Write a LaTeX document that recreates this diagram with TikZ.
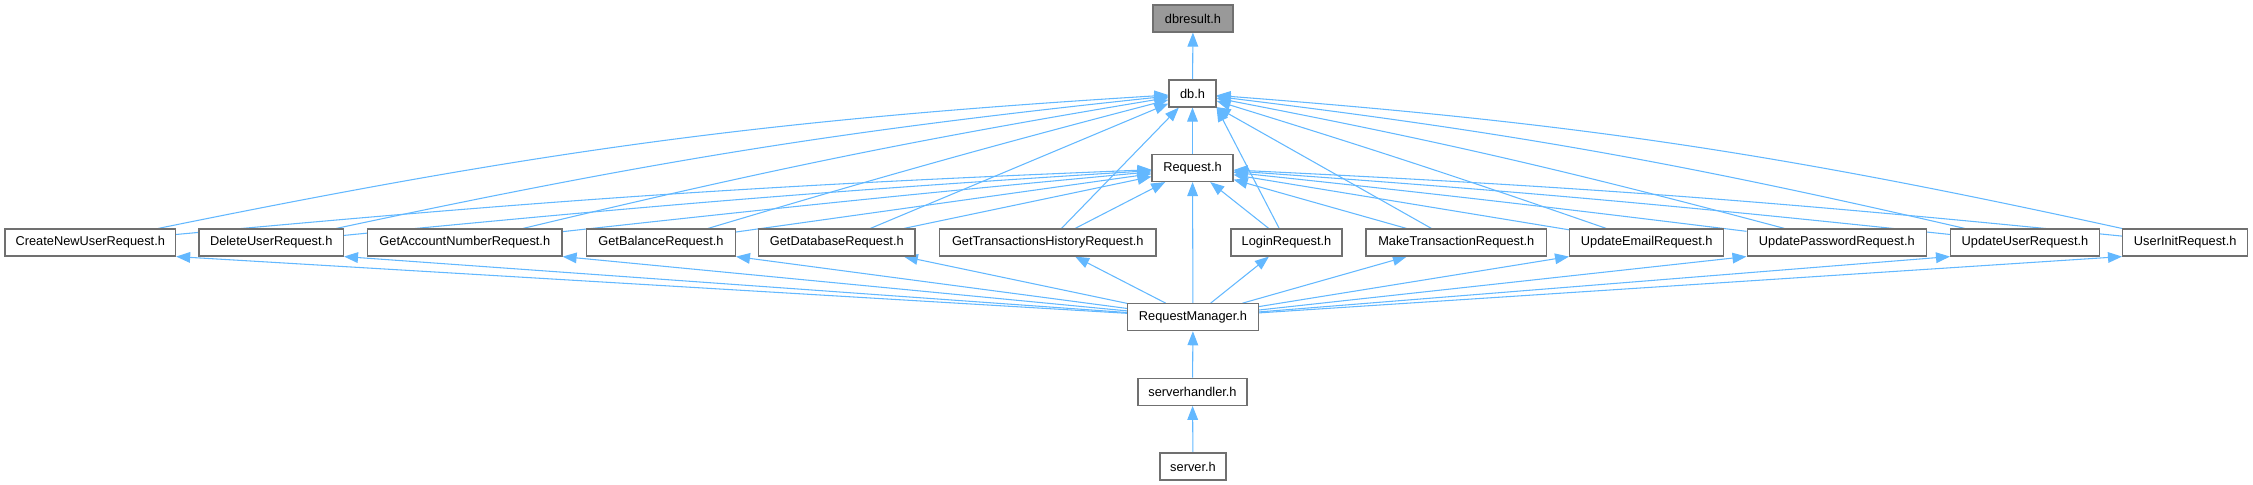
\documentclass[tikz,border=0pt]{standalone}
\usepackage{fontspec}
\setmainfont{Liberation Sans}
\usetikzlibrary{arrows.meta}
\pgfdeclarelayer{edges}
\pgfsetlayers{edges,main}
\definecolor{edgeblue}{HTML}{63B8FF}
\definecolor{boxline}{HTML}{707070}
\definecolor{boxgray}{HTML}{999999}
\tikzset{
  file/.style={draw=boxline, fill=white, line width=0.85pt, minimum height=20.25pt,
    inner sep=0pt, font=\fontsize{9.6}{11}\selectfont},
  inc/.style={draw=edgeblue, line width=0.8pt, -{Triangle[length=10.5pt,width=8pt]}},
}
\begin{document}
\begin{tikzpicture}[x=0.75pt, y=-0.75pt]
  \useasboundingbox (0,0) rectangle (2253,485);
  % central column, rows about 74.7 units apart
  \node[file, fill=boxgray, minimum width=60pt] (dbresult) at (1193,18.5) {dbresult.h};
  \node[file, minimum width=35.25pt] (db) at (1192.5,93.5) {db.h};
  \node[file, minimum width=60.75pt] (req) at (1192.5,168) {Request.h};
  % request headers: name/x centre/box width
  \foreach \n/\x/\w/\t in {%
    cnu/90.3/170.6/CreateNewUserRequest.h, delu/271.2/144.5/DeleteUserRequest.h,
    gacc/464.8/194.5/GetAccountNumberRequest.h, gbal/661/148.8/GetBalanceRequest.h,
    gdb/836.8/156.4/GetDatabaseRequest.h, gth/1047.8/216.5/GetTransactionsHistoryRequest.h,
    login/1286.5/111/LoginRequest.h, mktr/1456.3/180.6/MakeTransactionRequest.h,
    upem/1646.7/154.2/UpdateEmailRequest.h, uppw/1836.8/179.5/UpdatePasswordRequest.h,
    upus/2025/148.9/UpdateUserRequest.h, uinit/2185.2/125.3/UserInitRequest.h} {
    \node[file, minimum width=\w*0.75pt] (\n) at (\x,242.5) {\t};
  }
  \node[file, minimum width=97.95pt] (rm) at (1193,317.2) {RequestManager.h};
  \node[file, minimum width=81.75pt] (sh) at (1192.5,391.8) {serverhandler.h};
  \node[file, minimum width=49.5pt] (srv) at (1193,466.5) {server.h};

  % include edges, arrow at the included file
  \begin{pgfonlayer}{edges}
  \draw[inc] (db) -- (dbresult);
  \draw[inc] (req) -- (db);
  % left half: bends to db.h / Request.h
  \foreach \n/\a/\b in {cnu/4/1.5, delu/3/1, gacc/2/0.5, gbal/1/0, gdb/0/0} {
    \draw[inc] (\n) to[bend left=\a] (db);
    \draw[inc] (\n) to[bend left=\b] (req);
  }
  \draw[inc] (gth) -- (db);
  \draw[inc] (gth) -- (req);
  \draw[inc] (login) -- (db.south east);
  \draw[inc] (login) -- (req);
  % right half
  \foreach \n/\a/\b in {mktr/0/0, upem/1/0, uppw/2/0.5, upus/3/1, uinit/4/1.5} {
    \draw[inc] (\n) to[bend right=\a] (db);
    \draw[inc] (\n) to[bend right=\b] (req);
  }
  % RequestManager.h includes every request header
  \foreach \n in {cnu, delu, gacc, gbal} {
    \draw[inc] (rm) -- (\n.south east);
  }
  \foreach \n in {gdb, gth, login, mktr} {
    \draw[inc] (rm) -- (\n);
  }
  \foreach \n in {upem, uppw, upus, uinit} {
    \draw[inc] (rm) -- (\n.south west);
  }
  \draw[inc] (rm) -- (req);
  \draw[inc] (sh) -- (rm);
  \draw[inc] (srv) -- (sh);
  \end{pgfonlayer}
\end{tikzpicture}
\end{document}
